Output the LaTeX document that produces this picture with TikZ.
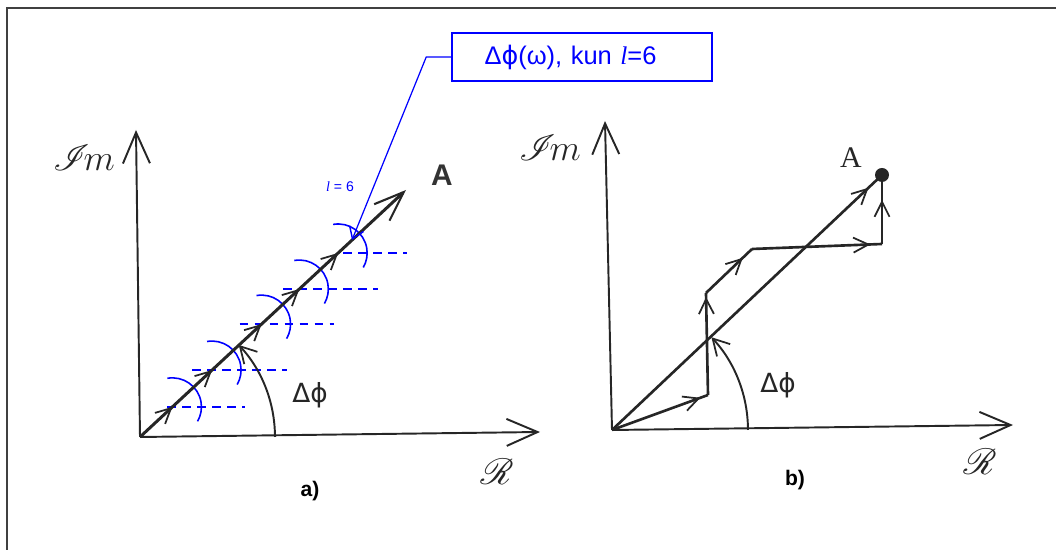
\documentclass[tikz,border=0pt]{standalone}
\usepackage{fontspec}
\usepackage{amsmath}
\usepackage{mathrsfs}
\setmainfont{Liberation Sans}
\newfontfamily\timesfont{Liberation Serif}
\newfontfamily\dejavu{DejaVu Sans}
\usetikzlibrary{arrows.meta,decorations.markings,calc}

\begin{document}
\begin{tikzpicture}[x=0.02cm, y=0.02cm,
    axis/.style={line width=1.1pt, black!85,
      -{Straight Barb[length=0.62cm, width=0.54cm, line width=1.1pt]}},
    bigvec/.style={line width=1.7pt, black!85},
    vec/.style={line width=1.5pt, black!85, postaction={decorate},
      decoration={markings, mark=at position #1 with
        {\arrow{Straight Barb[length=0.3cm, width=0.3cm, line width=1pt]}}}},
    vec/.default=0.9,
    anglearc/.style={line width=1.1pt, black!85,
      -{Straight Barb[length=0.32cm, width=0.36cm, line width=1pt]}},
    bluedash/.style={blue, line width=1pt, dash pattern=on 1.7mm off 1.3mm},
    bluearc/.style={blue, line width=0.9pt},
    scriptlab/.style={font=\fontsize{21}{21}\selectfont, black!85},
    sublab/.style={font=\bfseries\fontsize{12}{12}\selectfont},
    dphi/.style={font=\dejavu\fontsize{15}{15}\selectfont, black!85}]
  \useasboundingbox (0,0) rectangle (1056,550);
  \draw[line width=1.2pt, black!75] (7,0) |- (1056,542);

  % a)
  \coordinate (Oa) at (140,113);
  \coordinate (ya) at (136,420);
  \coordinate (xa) at (540,118);
  \coordinate (Ta) at (406,360);
  \draw[axis] (Oa) -- (ya);
  \draw[axis] (Oa) -- (xa);
  \node[scriptlab] (ima) at (84,392) {$\mathscr{I}\mkern-3mu m$};
  \node[scriptlab] (rea) at (497,78) {$\mathscr{R}$};
  \node[sublab] (suba) at (310,59) {a)};
  \foreach \f/\dl/\len [count=\i] in {0.122/-5/78, 0.271/-20/95, 0.457/-22/94,
      0.599/-16/95, 0.745/5/64} {
    \coordinate (p\i) at ($(Oa)!\f!(Ta)$);
    \draw[bluedash] (p\i) ++(\dl,0) -- ++(\len,0);
    \draw[bluearc] (p\i) ++(100:0.58cm) arc[start angle=100, end angle=-30, radius=0.58cm];
  }
  \draw[bigvec, postaction={decorate}, decoration={markings,
      mark=at position 0.122 with {\arrow{Straight Barb[length=0.3cm, width=0.3cm, line width=1pt]}},
      mark=at position 0.271 with {\arrow{Straight Barb[length=0.3cm, width=0.3cm, line width=1pt]}},
      mark=at position 0.457 with {\arrow{Straight Barb[length=0.3cm, width=0.3cm, line width=1pt]}},
      mark=at position 0.599 with {\arrow{Straight Barb[length=0.3cm, width=0.3cm, line width=1pt]}},
      mark=at position 0.745 with {\arrow{Straight Barb[length=0.3cm, width=0.3cm, line width=1pt]}}},
    -{Straight Barb[length=0.6cm, width=0.45cm, line width=1.2pt]}] (Oa) -- (Ta);
  \draw[anglearc] (Oa) ++(0:2.7cm) arc[start angle=0, end angle=43, radius=2.7cm];
  \node[dphi] (dpa) at (310,155) {Δϕ};
  \node[font=\bfseries\fontsize{17}{17}\selectfont, black!80] (la) at (442,375) {A};
  \coordinate (star) at (352,310);
  \node[draw=blue, line width=0.9pt, text width=3.9cm, inner xsep=0.65cm,
        minimum height=0.96cm, align=left,
        text=blue, font=\fontsize{14.5}{14.5}\selectfont] (note) at (582,493)
    {Δ{\dejavu ϕ}(ω), kun {\timesfont\itshape l}=6};
  \node[text=blue, font=\fontsize{8}{8}\selectfont] (lab6) at (340,363)
    {{\timesfont\itshape l} = 6};
  \draw[blue, line width=0.7pt,
    -{Straight Barb[length=0.22cm, width=0.3cm, line width=0.8pt]}]
    (note.west) -- ++(-25,0) -- (star);

  % b)
  \coordinate (Ob) at (612,120);
  \coordinate (yb) at (605,429);
  \coordinate (xb) at (1013,125);
  \draw[axis] (Ob) -- (yb);
  \draw[axis] (Ob) -- (xb);
  \node[scriptlab] (imb) at (550,402) {$\mathscr{I}\mkern-3mu m$};
  \node[scriptlab] (reb) at (980,88) {$\mathscr{R}$};
  \node[sublab] (subb) at (795,70) {b)};
  \node[circle, fill=black!85, inner sep=0pt, minimum size=0.28cm] (A) at (882,375) {};
  \node[font=\timesfont\fontsize{17}{17}\selectfont, black!85] (lb) at (851,392) {A};
  \coordinate (b1) at (708,155);
  \coordinate (b2) at (706,257);
  \coordinate (b3) at (752,301);
  \coordinate (b4) at (882,306);
  \draw[vec=0.95] (Ob) -- (A.center);
  \draw[vec=0.92] (Ob) -- (b1);
  \draw[vec=0.96] (b1) -- (b2);
  \draw[vec=0.8] (b2) -- (b3);
  \draw[vec=0.91] (b3) -- (b4);
  \draw[vec=0.64] (b4) -- (A.center);
  \draw[anglearc] (Ob) ++(0:2.72cm) arc[start angle=0, end angle=43, radius=2.72cm];
  \node[dphi] (dpb) at (778,165) {Δϕ};
\end{tikzpicture}
\end{document}
